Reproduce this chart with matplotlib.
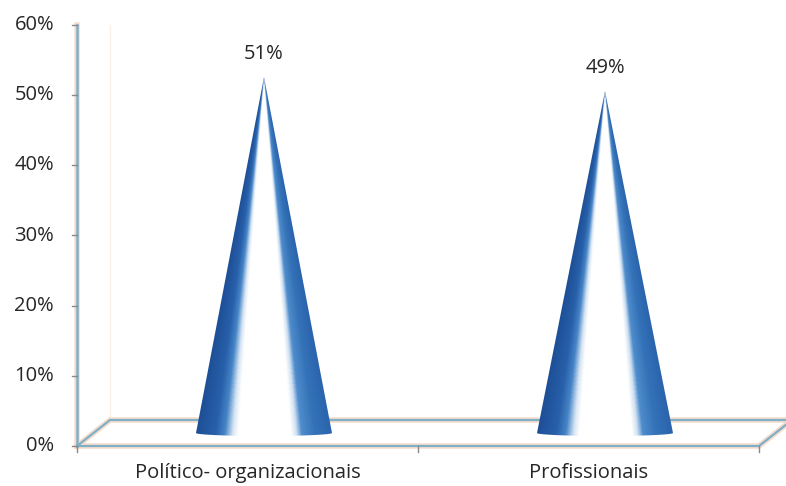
import numpy as np
import matplotlib
matplotlib.use("Agg")
import matplotlib.pyplot as plt
from matplotlib.patches import Polygon
from matplotlib.colors import LinearSegmentedColormap

categories = ["Político- organizacionais", "Profissionais"]
values = [0.51, 0.49]
value_labels = ["51%", "49%"]
y_ticks = [0.0, 0.1, 0.2, 0.3, 0.4, 0.5, 0.6]
y_tick_labels = ["0%", "10%", "20%", "30%", "40%", "50%", "60%"]

plt.rcParams["font.family"] = ["Open Sans", "DejaVu Sans"]
FS = 14.5

W, H = 786, 486
fig = plt.figure(figsize=(W / 100, H / 100), dpi=100)
fig.patch.set_facecolor("white")

# plot area in pixels: x 77..759, y 446 (0%) .. 25 (60%)
ax = fig.add_axes([77 / W, (H - 446) / H, 682 / W, 421 / H])
ax.set_xlim(0, 2)
ax.set_ylim(0, 0.6)
ax.axis("off")

px_x = 2 / 682.0
px_y = 0.6 / 421.0

# 3D depth offset of the floor
dx = 33 * px_x
dy = 26 * px_y

edge_col = "#7fb0c6"
halo_col = "#f6dccd"

# faint back wall line
ax.plot([dx, dx], [dy, 0.6], color="#faf0ea", lw=1.0, clip_on=False, zorder=1)

# floor parallelogram
floor_x = [0, 2, 2 + dx, dx, 0]
floor_y = [0, 0, dy, dy, 0]
ax.fill(floor_x, floor_y, color="white", zorder=1, clip_on=False)
ax.plot(floor_x, floor_y, color=halo_col, lw=4, clip_on=False, zorder=2,
        solid_joinstyle="miter")
ax.plot(floor_x, floor_y, color=edge_col, lw=1.6, clip_on=False, zorder=3,
        solid_joinstyle="miter")

# value axis line and ticks
ax.plot([0, 0], [0, 0.6], color=halo_col, lw=4, clip_on=False, zorder=2)
ax.plot([0, 0], [0, 0.6], color=edge_col, lw=1.8, clip_on=False, zorder=3)
for yt, lab in zip(y_ticks, y_tick_labels):
    ax.plot([-5 * px_x, 0], [yt, yt], color="#8a8a8a", lw=1, clip_on=False, zorder=3)
    ax.text(-23 * px_x, yt, lab, ha="right", va="center", fontsize=FS,
            color="#262626")

# category axis ticks and labels
for xt in [0, 1, 2]:
    ax.plot([xt, xt], [0, -6 * px_y], color="#8a8a8a", lw=1, clip_on=False, zorder=3)
for i, cat in enumerate(categories):
    ax.text(i + 0.5, -27 * px_y, cat, ha="center", va="center", fontsize=FS,
            color="#262626")

# cone shading across its local width (0 = left silhouette, 1 = right)
cone_cmap = LinearSegmentedColormap.from_list(
    "cone",
    [(0.00, "#1d4f96"), (0.14, "#2860aa"), (0.21, "#4584c6"),
     (0.27, "#d6e5f4"), (0.31, "#ffffff"), (0.70, "#ffffff"),
     (0.74, "#cfe0f2"), (0.78, "#4f8ccc"), (0.88, "#3472b8"),
     (1.00, "#2a64ac")])

half_w = 68 * px_x
base_y = dy / 2
ell_h = 3 * px_y
for i, (v, lab) in enumerate(zip(values, value_labels)):
    cx = i + 0.5 + dx / 2
    tip = v + dy / 2 - 2 * px_y
    t = np.linspace(np.pi, 2 * np.pi, 40)
    arc = np.column_stack([cx + half_w * np.cos(t), base_y + ell_h * np.sin(t)])
    verts = np.vstack([[[cx, tip]], arc])
    poly = Polygon(verts, closed=True, facecolor="none", edgecolor="none",
                   transform=ax.transData)
    ax.add_patch(poly)

    nx, ny = 300, 400
    xs = np.linspace(cx - half_w, cx + half_w, nx)
    ys = np.linspace(tip, base_y - ell_h, ny)
    X, Y = np.meshgrid(xs, ys)
    hw = half_w * np.clip((tip - Y) / (tip - base_y), 1e-3, None)
    U = np.clip((X - cx) / hw * 0.5 + 0.5, 0, 1)
    im = ax.imshow(U, cmap=cone_cmap, vmin=0, vmax=1, aspect="auto",
                   extent=[cx - half_w, cx + half_w, base_y - ell_h, tip],
                   zorder=4, interpolation="bilinear", origin="upper")
    im.set_clip_path(poly)
    ax.text(cx, tip + 23 * px_y, lab, ha="center", va="center", fontsize=FS,
            color="#262626", zorder=5)

ax.set_xlim(0, 2)
ax.set_ylim(0, 0.6)

fig.savefig("out.png", dpi=100, facecolor="white")
